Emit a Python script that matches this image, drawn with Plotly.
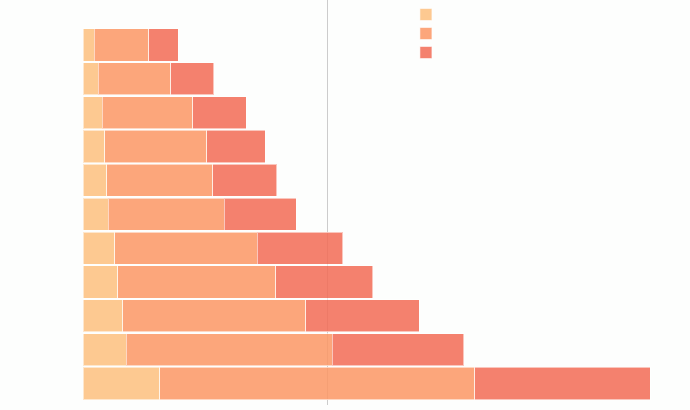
import plotly.graph_objects as go

# categories listed top to bottom (labels hidden in the reference)
categories = ["c1", "c2", "c3", "c4", "c5", "c6", "c7", "c8", "c9", "c10", "c11"]
series_a = [11.4, 15.4, 19.4, 21.7, 23.7, 25.4, 31.7, 34.7, 39.7, 43.0, 76.7]
series_b = [54.3, 72.3, 90.3, 102.0, 106.0, 115.6, 142.3, 158.0, 183.0, 206.0, 314.7]
series_c = [29.7, 43.0, 53.3, 58.3, 64.0, 72.0, 85.4, 96.7, 113.3, 131.4, 175.6]
reference_value = [244]

colors = ["rgba(253,192,126,0.85)", "rgba(252,151,100,0.85)", "rgba(242,107,85,0.85)"]

fig = go.Figure()
for vals, col in zip([series_a, series_b, series_c], colors):
    fig.add_trace(go.Bar(
        y=categories, x=vals, orientation="h", name="",
        marker=dict(color=col, line=dict(color="rgba(255,255,255,0.55)", width=1)),
    ))

fig.update_layout(
    width=690, height=410,
    margin=dict(l=83, r=0, t=0, b=5),
    barmode="stack", bargap=0.05,
    paper_bgcolor="#fdfefd", plot_bgcolor="#fdfefd",
    showlegend=True,
    legend=dict(x=0.532, xanchor="left", y=1, yanchor="top", traceorder="normal",
                font=dict(size=8), bgcolor="rgba(0,0,0,0)"),
    xaxis=dict(range=[0, 606.5], tickvals=reference_value, showticklabels=False,
               showgrid=True, gridcolor="#cccccc", gridwidth=1, zeroline=False),
    yaxis=dict(range=[10.635, -1.33], showticklabels=False, showgrid=False, zeroline=False),
)

fig.write_html("out.html")
